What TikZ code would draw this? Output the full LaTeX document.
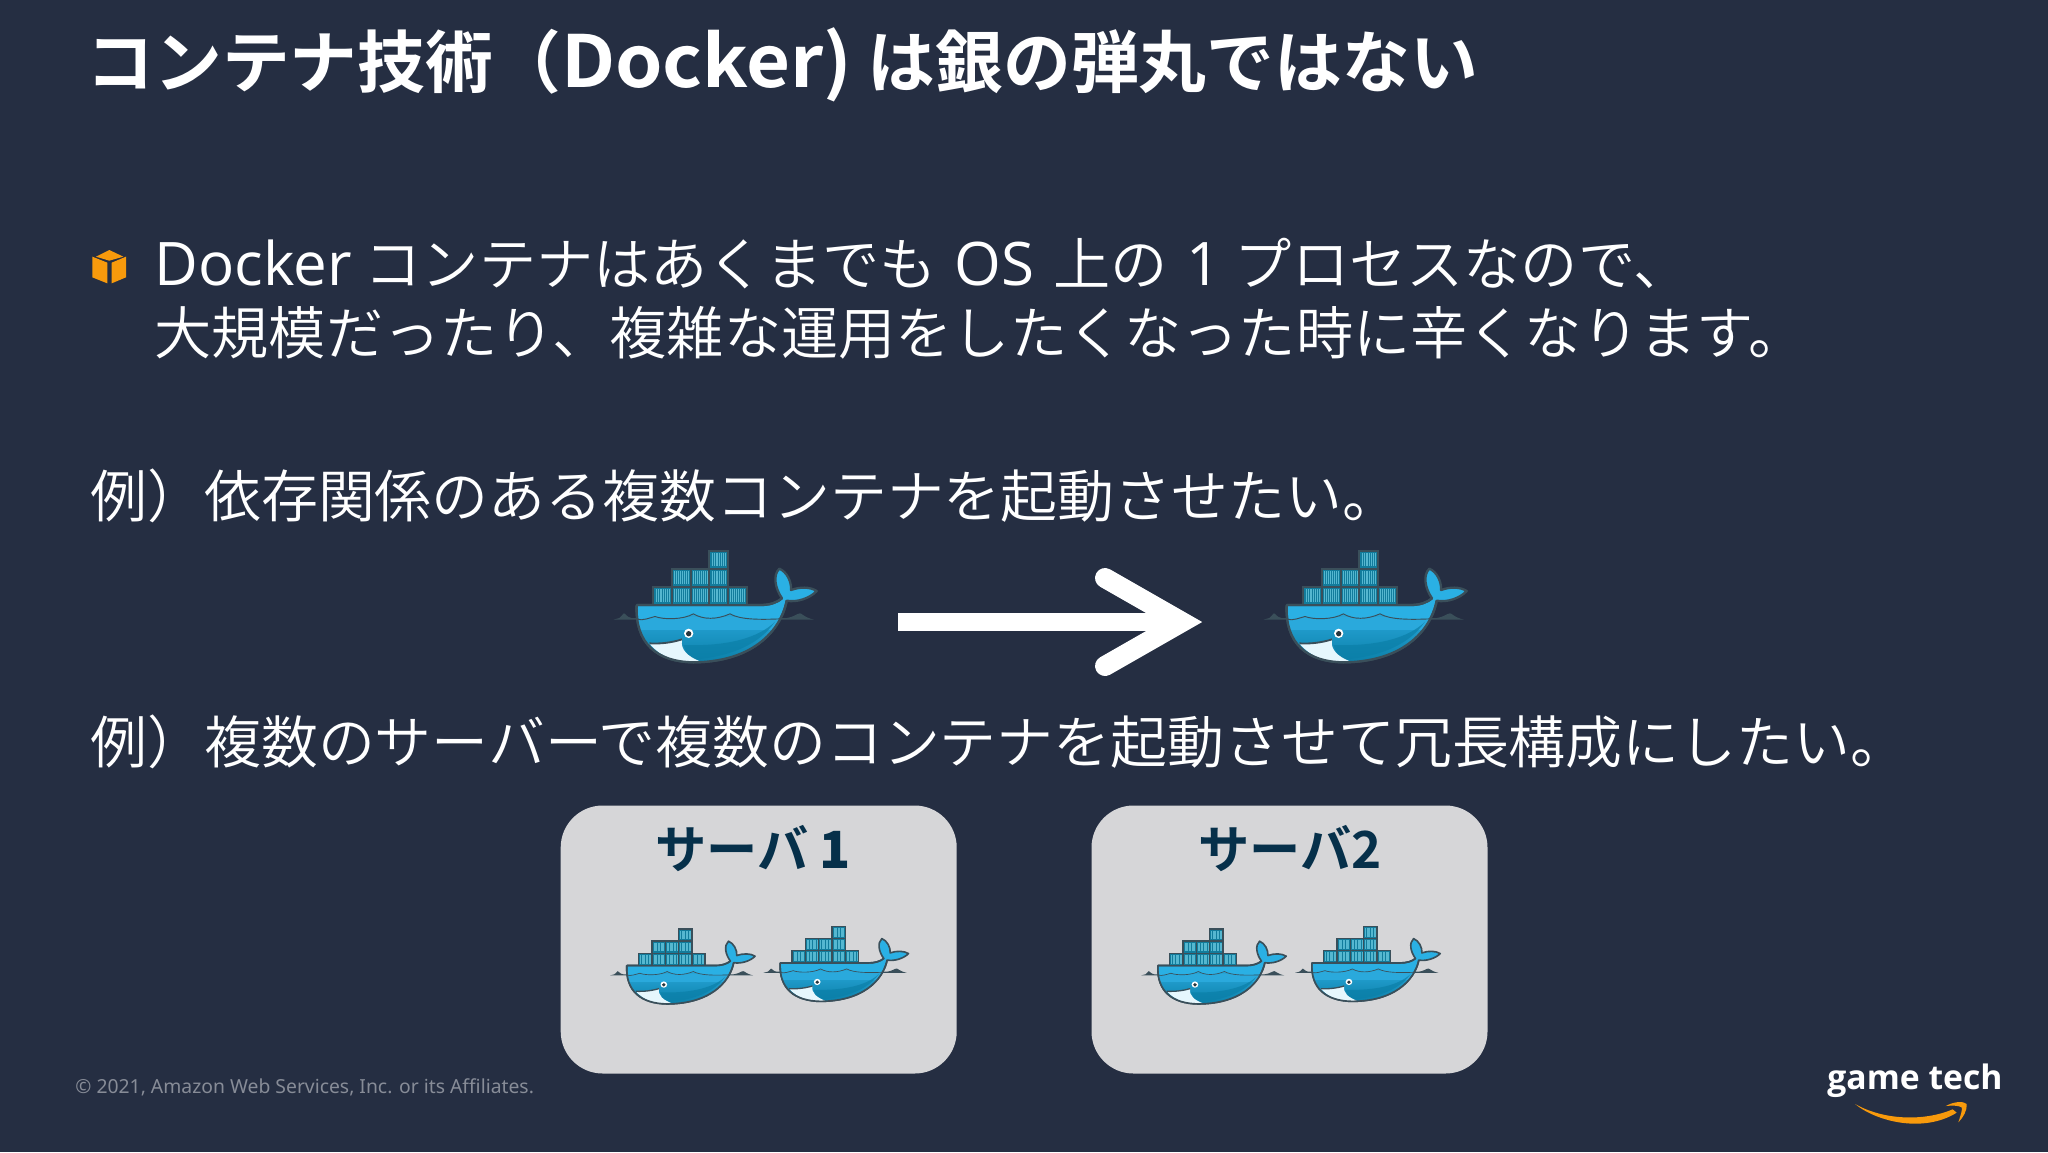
\documentclass[tikz,border=0pt]{standalone}
\usepackage{fontspec}
\setmainfont{Noto Sans CJK JP}
\newfontfamily\bodyfont{Noto Sans CJK JP DemiLight}
\newfontfamily\titlefont{Noto Sans CJK JP Bold}
\newfontfamily\latinlight[Scale=1.05]{Open Sans}
\newfontfamily\footfont{Noto Sans}
\newfontfamily\logofont{Open Sans}
\usetikzlibrary{calc}
\definecolor{bgc}{HTML}{252E42}
\definecolor{boxc}{HTML}{D6D6D8}
\definecolor{navyc}{HTML}{06304A}
\definecolor{orangec}{HTML}{F89A0C}
\definecolor{outl}{HTML}{3A4F5A}
\definecolor{ctrc}{HTML}{127C9C}
\definecolor{ctrl}{HTML}{55B7D0}
\definecolor{upperc}{HTML}{2AB0E4}
\definecolor{hullL}{HTML}{2AA9DC}
\definecolor{hullD}{HTML}{0B7FA8}
\tikzset{
  ttl/.style={anchor=base west,inner sep=0,text=white,font={\titlefont\fontsize{33.9}{40}\selectfont}},
  bodytxt/.style={anchor=base west,inner sep=0,text=white,font={\bodyfont\fontsize{28.6}{34}\selectfont}},
  extxt/.style={anchor=base west,inner sep=0,text=white,font={\bodyfont\fontsize{28.45}{34}\selectfont}},
  srv/.style={draw=none,fill=boxc,rounded corners=21pt,minimum width=198pt,minimum height=134pt,inner sep=0},
  srvlabel/.style={anchor=base,inner sep=0,text=navyc,font={\titlefont\fontsize{25.6}{28}\selectfont}},
}
% one container at (x,y) in whale coordinates
\newcommand\ctr[2]{%
  \fill[ctrc] (#1,#2) rectangle (#1+56,#2+54);
  \foreach \k in {0,1,...,7}{\fill[ctrl] ({#1+7+\k*5.8},#2+8) rectangle ++(2.8,38);}
  \draw[outl,line width=\wlw*0.9] (#1,#2) rectangle (#1+56,#2+54);
}
% whale: origin x, origin y, x scale, y scale
\newcommand\whale[4]{%
 \begin{scope}[shift={(#1,#2)},x=#3*0.16667pt,y=-#4*0.16667pt]
  \pgfmathsetmacro\wlw{#3*1.15}
  \edef\wlw{\wlw pt}
  % water line
  \fill[outl] (40,269) -- (58,264) .. controls (65,262) and (68,250) .. (72,250) .. controls (76,250) and (80,262) .. (95,264) -- (560,264) .. controls (580,262) and (592,250) .. (600,250) .. controls (606,250) and (612,262) .. (642,269) -- cycle;
  % hull
  \path[fill=upperc,draw=outl,line width=\wlw,line join=round]
    (110,225) -- (480,225) .. controls (510,225) and (530,218) .. (546,205)
    .. controls (525,175) and (518,135) .. (538,116)
    .. controls (560,125) and (575,155) .. (573,180)
    .. controls (600,170) and (630,170) .. (650,183)
    .. controls (630,205) and (590,218) .. (560,212)
    .. controls (550,270) and (490,395) .. (280,397)
    .. controls (170,395) and (105,340) .. (110,225) -- cycle;
  % lower hull
  \begin{scope}
    \clip (112,266) .. controls (125,272) and (150,262) .. (165,258) .. controls (190,268) and (250,268) .. (280,250) .. controls (310,268) and (350,268) .. (390,250) .. controls (420,268) and (480,268) .. (545,265) -- (545,400) -- (100,400) -- cycle;
    \clip (110,225) -- (480,225) .. controls (510,225) and (530,218) .. (546,205) -- (560,212)
    .. controls (550,270) and (490,395) .. (280,397)
    .. controls (170,395) and (105,340) .. (110,225) -- cycle;
    \shade[shading angle=200,top color=hullL,bottom color=hullD] (100,240) rectangle (560,400);
    \fill[hullL] (110,262) rectangle (545,300);
    \fill[hullD,opacity=.7] (270,390) .. controls (400,380) and (480,340) .. (525,275) .. controls (480,320) and (390,350) .. (250,345) -- cycle;
    \draw[outl,line width=\wlw*0.8] (112,266) .. controls (125,272) and (150,262) .. (165,258) .. controls (190,268) and (250,268) .. (280,250) .. controls (310,268) and (350,268) .. (390,250) .. controls (420,268) and (480,268) .. (545,265);
    % belly
    \fill[white!90!cyan] (148,340) .. controls (180,342) and (215,338) .. (246,328) .. controls (240,360) and (265,380) .. (300,394) .. controls (230,400) and (180,380) .. (148,340) -- cycle;
    \draw[outl,line width=\wlw*0.8] (148,340) .. controls (180,342) and (215,338) .. (246,328);
  \end{scope}
  \draw[outl,line width=\wlw,line join=round] (110,225) -- (480,225) .. controls (510,225) and (530,218) .. (546,205) (560,212)
    .. controls (550,270) and (490,395) .. (280,397)
    .. controls (170,395) and (105,340) .. (110,225);
  % eye
  \fill[white] (266,310) circle [x radius=14,y radius=14];
  \fill[outl!70!black] (266,311) circle [x radius=8,y radius=8];
  % containers
  \ctr{160}{170}\ctr{216}{170}\ctr{272}{170}\ctr{328}{170}\ctr{384}{170}
  \ctr{216}{116}\ctr{272}{116}\ctr{328}{116}
  \ctr{328}{62}
 \end{scope}}
\begin{document}
\begin{tikzpicture}[x=0.5pt,y=-0.5pt]
\useasboundingbox (0,0) rectangle (2048,1152);
\fill[bgc] (0,0) rectangle (2048,1152);
% title
\node[ttl] (title) at (86,87) {コンテナ技術（\scalebox{1.12}[1.06]{Docker)} は銀の弾丸ではない};
% bullet cube
\begin{scope}[shift={(70,220)},x=0.16667pt,y=-0.16667pt]
  \fill[orangec] (118,90) -- (160,110) -- (118,122) -- (78,110) -- cycle;
  \fill[orangec] (67,110) -- (112,128) -- (112,190) -- (67,172) -- cycle;
  \fill[orangec] (125,128) -- (168,110) -- (168,172) -- (125,190) -- cycle;
\end{scope}
% body
\node[bodytxt] (l1) at (154,285) {{\latinlight Docker}\hspace{0.2pt} コンテナはあくまでも\hspace{2.6pt} {\latinlight OS}\hspace{3.2pt} 上の\hspace{3pt} {\latinlight 1}\hspace{0.5pt} プロセスなので、};
\node[bodytxt] (l2) at (154,354) {大規模だったり、複雑な運用をしたくなった時に辛くなります。};
\node[extxt] (e1) at (90,517) {例）依存関係のある複数コンテナを起動させたい。};
\node[extxt] (e2) at (90,763) {例）複数のサーバーで複数のコンテナを起動させて冗長構成にしたい。};
% whales + arrow
\whale{600}{530}{1}{1}
\whale{1250}{530}{1}{1}
\coordinate (arrowstart) at (898,622);
\coordinate (arrowend) at (1185,622);
\draw[white,line width=9pt] (arrowstart) -- (arrowend);
\draw[white,line width=10pt,line cap=round,line join=miter,miter limit=10] (1105,578) -- (1182,622) -- (1105,666);
% servers
\node[srv] (s1) at (758.7,939.5) {};
\node[srv] (s2) at (1289.5,939.5) {};
\node[srvlabel] (s1l) at (753,868) {サーバ {\bfseries 1}};
\node[srvlabel] (s2l) at (1290,868) {サーバ2};
\whale{600.6}{915.3}{0.713}{0.67}
\whale{754}{912.7}{0.713}{0.67}
\whale{1131.7}{915.3}{0.713}{0.67}
\whale{1285.7}{912.7}{0.713}{0.67}
% footer
\node[anchor=base west,inner sep=0,text=white!45!bgc,font={\footfont\fontsize{9.67}{12}\selectfont}] (copy) at (75,1093) {© 2021, Amazon Web Services, Inc. or its Affiliates.};
% logo
\node[anchor=base west,inner sep=0,text=white,font={\logofont\bfseries\fontsize{16.85}{22}\selectfont}] (logo) at (1827,1089) {game tech};
\begin{scope}[shift={(1780,1030)},x=0.16667pt,y=-0.16667pt]
  \fill[orangec] (225,222) .. controls (290,275) and (430,310) .. (530,248) -- (518,238) .. controls (430,275) and (310,270) .. (225,222) -- cycle;
  \fill[orangec] (497,228) .. controls (520,215) and (550,212) .. (560,222) .. controls (562,240) and (550,262) .. (535,277) .. controls (540,260) and (548,240) .. (545,232) .. controls (535,226) and (515,226) .. (497,228) -- cycle;
\end{scope}
\end{tikzpicture}
\end{document}
